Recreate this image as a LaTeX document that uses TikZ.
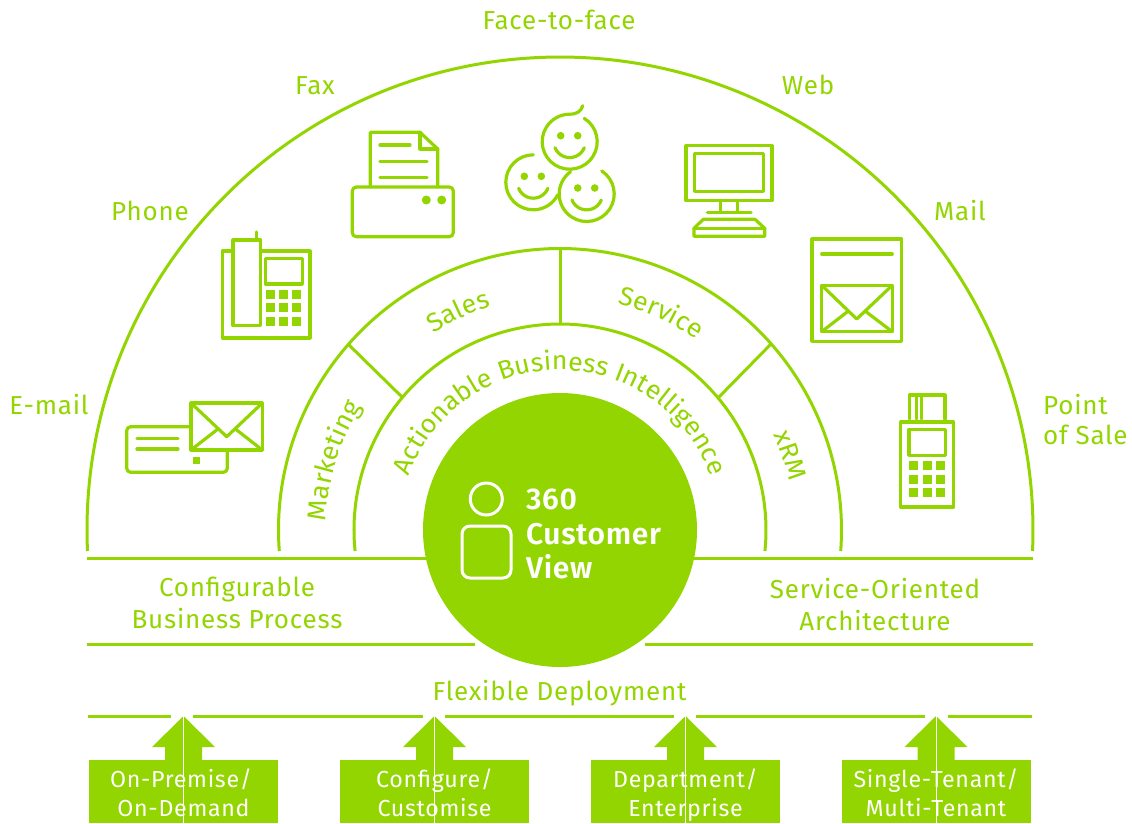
\documentclass[tikz,border=0pt]{standalone}
\usepackage{fontspec}
\setmainfont{Fira Sans}
\newfontfamily\lsfont[LetterSpace=3]{Fira Sans}
\newfontfamily\curvefont[FakeStretch=1.03]{Fira Sans}
\newfontfamily\boldlabel[LetterSpace=2]{Fira Sans SemiBold}
\usetikzlibrary{decorations.text}
\definecolor{gr}{HTML}{93D500}
\tikzset{
  lbl/.style={text=gr,inner sep=0pt,font=\lsfont\fontsize{26}{32}\selectfont,align=center},
  boxlbl/.style={text=white,inner sep=0pt,font=\lsfont\fontsize{23.2}{29}\selectfont,align=center},
  rule/.style={draw=gr,line width=3pt},
  icon/.style={draw=gr,line width=3.2pt,line cap=round,line join=round},
  key/.style={fill=gr,draw=none},
  footbox/.style={fill=gr,draw=none,minimum width=189pt,minimum height=63pt,inner sep=0pt},
  curve/.style={decorate,decoration={text along path,text align=center,text color=gr,text={|\curvefont\fontsize{26}{30}\selectfont|#1}}}
}
\newcommand{\flapenv}[6]{% x1 y1 x2 y2 vx vy
  \draw[icon] (#1,#2) rectangle (#3,#4);
  \draw[icon] (#1,#2) -- (#5,#6) -- (#3,#2);
  \draw[icon] (#1,#4) -- ({#5-9},{#6-7.5});
  \draw[icon] (#3,#4) -- ({#5+9},{#6-7.5});
}
\newcommand{\footarrow}[1]{%
  \fill[gr] ({#1},716) -- ({#1+31.5},747) -- ({#1+18.5},747) -- ({#1+18.5},761) -- ({#1-18.5},761) -- ({#1-18.5},747) -- ({#1-31.5},747) -- cycle;
  \draw[white,line width=0.8pt] ({#1},716) -- ({#1},823);
}
\begin{document}
\begin{tikzpicture}[x=1pt,y=-1pt]
\useasboundingbox (0,0) rectangle (1132,823);
% arcs
\begin{scope}[shift={(560,530)},x=1pt,y=1pt]
  \draw[rule] (182.54:473pt) arc[start angle=182.54,end angle=-2.54,radius=473pt];
  \draw[rule] (184.28:281.5pt) arc[start angle=184.28,end angle=-4.28,radius=281.5pt];
  \draw[rule] (185.85:206pt) arc[start angle=185.85,end angle=-5.85,radius=206pt];
  \draw[rule] (90:206pt) -- (90:281.5pt);
  \path[curve={Marketing}] (190:234pt) arc[start angle=190,end angle=136,radius=234pt];
  \path[curve={Sales}] (145:234pt) arc[start angle=145,end angle=85,radius=234pt];
  \path[curve={Service}] (95:234pt) arc[start angle=95,end angle=35,radius=234pt];
  \path[curve={xRM}] (43:234pt) arc[start angle=43,end angle=-7,radius=234pt];
  \path[curve={Actionable Business Intelligence}] (170:160pt) arc[start angle=170,end angle=10,radius=160pt];
\end{scope}
\draw[rule] (348,344) -- (402,397);
\draw[rule] (771,344) -- (718,398);
% rules
\draw[rule] (87,558.5) -- (430,558.5);
\draw[rule] (690,558.5) -- (1033,558.5);
\draw[rule] (87,644.5) -- (475,644.5);
\draw[rule] (645,644.5) -- (1033,644.5);
\draw[rule] (88,716) -- (171,716);
\draw[rule] (193,716) -- (423,716);
\draw[rule] (445,716) -- (674,716);
\draw[rule] (696,716) -- (925,716);
\draw[rule] (948,716) -- (1032,716);
% hub
\node[circle,fill=gr,draw=none,minimum size=274pt,inner sep=0pt] (hub) at (560,530) {};
\draw[white,line width=3pt] (486.3,499) circle[radius=16pt];
\draw[white,line width=3pt,rounded corners=8pt] (462,526) rectangle (511,578);
\node[anchor=base west,text=white,inner sep=0pt,font=\boldlabel\fontsize{30}{30}\selectfont] (h1) at (526,509) {360};
\node[anchor=base west,text=white,inner sep=0pt,font=\boldlabel\fontsize{30}{30}\selectfont] (h2) at (526,544) {Customer};
\node[anchor=base west,text=white,inner sep=0pt,font=\boldlabel\fontsize{30}{30}\selectfont] (h3) at (526,578) {View};
% labels
\node[lbl,anchor=base] (f2f) at (559,29) {Face-to-face};
\node[lbl,anchor=base] (fax) at (315,94) {Fax};
\node[lbl,anchor=base] (web) at (808,94) {Web};
\node[lbl,anchor=base] (phone) at (150,220) {Phone};
\node[lbl,anchor=base] (mail) at (960,220) {Mail};
\node[lbl,anchor=base] (email) at (49,414) {E-mail};
\node[lbl,anchor=base west] (pos1) at (1043,414) {Point};
\node[lbl,anchor=base west] (pos2) at (1043,444) {of Sale};
\node[lbl,anchor=base] (cbp1) at (237,596) {Configurable};
\node[lbl,anchor=base] (cbp2) at (237,628) {Business Process};
\node[lbl,anchor=base] (soa1) at (875,598) {Service-Oriented};
\node[lbl,anchor=base] (soa2) at (875,630) {Architecture};
\node[lbl,anchor=base] (flex) at (559.5,700) {Flexible Deployment};
% footer
\node[footbox] (b1) at (183.5,791.5) {};
\node[footbox] (b2) at (434.5,791.5) {};
\node[footbox] (b3) at (685.5,791.5) {};
\node[footbox] (b4) at (936,791.5) {};
\footarrow{183.5}\footarrow{434.5}\footarrow{685.5}\footarrow{936}
\node[boxlbl,anchor=base] (t1a) at (181,787) {On-Premise/};
\node[boxlbl,anchor=base] (t1b) at (183.5,816) {On-Demand};
\node[boxlbl,anchor=base] (t2a) at (434.5,787) {Configure/};
\node[boxlbl,anchor=base] (t2b) at (434.5,816) {Customise};
\node[boxlbl,anchor=base] (t3a) at (685.5,787) {Department/};
\node[boxlbl,anchor=base] (t3b) at (685.5,816) {Enterprise};
\node[boxlbl,anchor=base] (t4a) at (936,787) {Single-Tenant/};
\node[boxlbl,anchor=base] (t4b) at (936,816) {Multi-Tenant};
% e-mail icon
\draw[icon,rounded corners=4pt] (191,426.7) -- (126.7,426.7) -- (126.7,472.3) -- (227.3,472.3) -- (227.3,450);
\draw[icon] (137,438.3) -- (178,438.3);
\draw[icon] (137,449) -- (178,449);
\fill[key] (193,456.7) rectangle (200,464);
\flapenv{191}{403}{262.3}{450}{226.7}{436.7}
% phone icon
\draw[icon] (222.5,251) rectangle (310,338);
\draw[icon,fill=white] (233,240) rectangle (260.7,325.7);
\draw[icon] (256.7,232) -- (256.7,240);
\draw[icon] (265.3,258.3) rectangle (302.3,284);
\foreach \kx in {266,279,292}\foreach \ky in {290,303,317}{\fill[key] (\kx,\ky) rectangle (\kx+9,\ky+9);}
% fax icon
\draw[icon] (370.3,187) -- (370.3,132.3) -- (420,132.3) -- (437.7,149) -- (437.7,187);
\draw[icon] (420,132.3) -- (420,149) -- (437.7,149);
\draw[icon] (380,145) -- (410,145);
\draw[icon] (380,161.3) -- (427,161.3);
\draw[icon] (380,177.7) -- (427,177.7);
\draw[icon,rounded corners=4pt] (352.3,187) rectangle (453.3,236.7);
\fill[gr] (426.3,200) circle[radius=4.5pt] (441.7,200) circle[radius=4.5pt];
% smileys
\begin{scope}[shift={(569.7,141.7)},x=1pt,y=1pt]
  \draw[icon] (58:27.5pt) arc[start angle=58,end angle=-270,radius=27.5pt] .. controls (8,27.5) and (11.5,31) .. (13,36);
  \fill[gr] (-9,6) circle[radius=3.8pt] (8,6) circle[radius=3.8pt];
  \draw[icon] (-14.7,-6) arc[start angle=-158,end angle=-22,radius=15.8pt];
\end{scope}
\begin{scope}[shift={(533.3,182.3)},x=1pt,y=1pt]
  \draw[icon] (90:27.5pt) arc[start angle=90,end angle=333,radius=27.5pt];
  \fill[gr] (-9,6) circle[radius=3.8pt] (8,6) circle[radius=3.8pt];
  \draw[icon] (-14.7,-6) arc[start angle=-158,end angle=-22,radius=15.8pt];
\end{scope}
\begin{scope}[shift={(586.7,194)},x=1pt,y=1pt]
  \draw[icon] (57:27.5pt) arc[start angle=57,end angle=-234,radius=27.5pt];
  \fill[gr] (-9,6) circle[radius=3.8pt] (8,6) circle[radius=3.8pt];
  \draw[icon] (-14.7,-6) arc[start angle=-158,end angle=-22,radius=15.8pt];
\end{scope}
% monitor icon
\draw[icon] (686,145.7) rectangle (772,200.7);
\draw[icon] (694.7,153.3) rectangle (763.3,191.7);
\draw[icon] (720.7,200.7) -- (720.7,212);
\draw[icon] (737.3,200.7) -- (737.3,212);
\draw[icon] (707.3,212.3) -- (751,212.3);
\draw[icon] (703.3,219.3) -- (755,219.3) -- (764.7,228.3) -- (764.7,236.3) -- (694,236.3) -- (694,228.3) -- cycle;
\draw[icon] (694,228.3) -- (764.7,228.3);
% mail icon
\draw[icon] (812,239) rectangle (901.7,341.3);
\draw[icon] (821.7,254) -- (892.3,254);
\flapenv{821.7}{285.3}{892.3}{331.7}{856.7}{319}
% POS icon
\draw[icon] (900.7,422) rectangle (953.7,507);
\draw[icon] (909,429.3) rectangle (945.7,455.3);
\foreach \kx in {909,923,936}\foreach \ky in {461,475,488}{\fill[key] (\kx,\ky) rectangle (\kx+9,\ky+9);}
\draw[icon] (909.3,419) -- (909.3,395) -- (945,395) -- (945,419);
\draw[icon] (916.7,395) -- (916.7,419);
\draw[icon] (921.7,395) -- (921.7,419);
\end{tikzpicture}
\end{document}
